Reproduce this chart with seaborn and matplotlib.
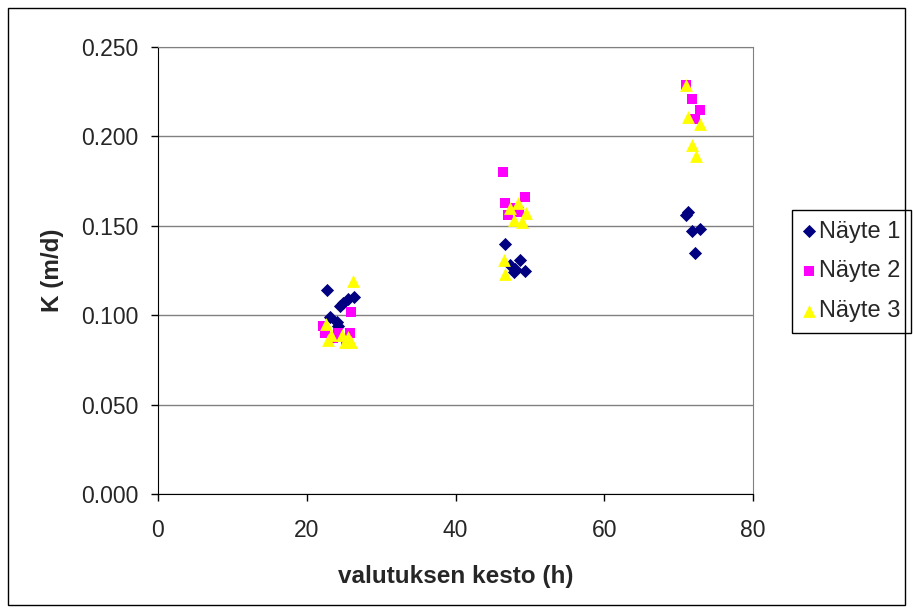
import pandas as pd
import seaborn as sns
import matplotlib.pyplot as plt
from matplotlib.patches import Rectangle

# values
n1_x = [22.7, 26.3, 25.6, 24.9, 24.4, 23.1, 24.0, 24.2,
        46.7, 47.3, 48.0, 48.7, 49.3, 47.8,
        70.9, 71.3, 71.8, 72.9, 72.2]
n1_k = [0.114, 0.110, 0.109, 0.107, 0.105, 0.099, 0.096, 0.094,
        0.140, 0.128, 0.126, 0.131, 0.125, 0.124,
        0.156, 0.158, 0.147, 0.148, 0.135]

n2_x = [26.0, 22.2, 22.4, 24.2, 25.8, 23.5, 25.3,
        46.4, 46.7, 49.3, 47.1, 48.5, 48.0,
        71.0, 71.8, 72.8, 72.2]
n2_k = [0.102, 0.094, 0.090, 0.090, 0.090, 0.087, 0.086,
        0.180, 0.163, 0.166, 0.156, 0.158, 0.160,
        0.229, 0.221, 0.215, 0.210]

n3_x = [26.2, 22.6, 23.3, 22.9, 24.7, 25.5, 25.1, 26.0,
        48.4, 47.3, 49.5, 47.8, 48.9, 46.5, 46.7,
        70.9, 71.3, 72.9, 71.8, 72.3]
n3_k = [0.119, 0.095, 0.089, 0.086, 0.089, 0.088, 0.085, 0.085,
        0.163, 0.160, 0.157, 0.153, 0.152, 0.131, 0.123,
        0.229, 0.211, 0.207, 0.195, 0.189]

series = ['Näyte 1', 'Näyte 2', 'Näyte 3']

df = pd.concat([
    pd.DataFrame({'kesto': n1_x, 'K': n1_k, 'sarja': series[0]}),
    pd.DataFrame({'kesto': n2_x, 'K': n2_k, 'sarja': series[1]}),
    pd.DataFrame({'kesto': n3_x, 'K': n3_k, 'sarja': series[2]}),
])

sns.set_style('white')
plt.rcParams['font.family'] = ['Liberation Sans', 'DejaVu Sans']

fig = plt.figure(figsize=(9.13, 6.12), dpi=100)
ax = fig.add_axes([0.173, 0.193, 0.652, 0.730])

palette = {'Näyte 1': '#000080', 'Näyte 2': '#FF00FF', 'Näyte 3': '#FFFF00'}
markers = {'Näyte 1': 'D', 'Näyte 2': 's', 'Näyte 3': '^'}
sizes = {'Näyte 1': 45, 'Näyte 2': 62, 'Näyte 3': 85}

for name in series:
    sub = df[df['sarja'] == name]
    sns.scatterplot(data=sub, x='kesto', y='K', color=palette[name],
                    marker=markers[name], s=sizes[name], linewidth=0,
                    label=name, ax=ax, zorder=3)

ax.set_xlim(0, 80)
ax.set_ylim(0, 0.25)
ax.set_xticks([0, 20, 40, 60, 80])
ax.set_yticks([0, 0.05, 0.1, 0.15, 0.2, 0.25])
ax.set_yticklabels([f'{v:.3f}' for v in ax.get_yticks()])
ax.yaxis.grid(True, color='#808080', linewidth=1)
ax.set_axisbelow(True)

for side in ['left', 'bottom']:
    ax.spines[side].set_color('black')
for side in ['top', 'right']:
    ax.spines[side].set_color('#808080')
ax.tick_params(axis='both', direction='out', length=5, width=1, color='black',
               labelsize=16.5, bottom=True, left=True)
ax.tick_params(axis='x', pad=13)
ax.tick_params(axis='y', pad=9)

ax.set_xlabel('valutuksen kesto (h)', fontsize=17.5, fontweight='bold', labelpad=17)
ax.set_ylabel('K (m/d)', fontsize=17.5, fontweight='bold', labelpad=12)

leg = ax.legend(loc='upper left', bbox_to_anchor=(0.867, 0.657),
                bbox_transform=fig.transFigure, fontsize=17, frameon=True,
                fancybox=False, framealpha=1, edgecolor='black',
                borderpad=0.45, labelspacing=0.75, handletextpad=0.1,
                handlelength=0.6, borderaxespad=0)
leg.get_frame().set_linewidth(1)

# outer chart border
fig.patches.append(Rectangle((0.009, 0.011), 0.982, 0.976, transform=fig.transFigure,
                             fill=False, edgecolor='black', linewidth=1))

plt.savefig('out.png', dpi=100)
